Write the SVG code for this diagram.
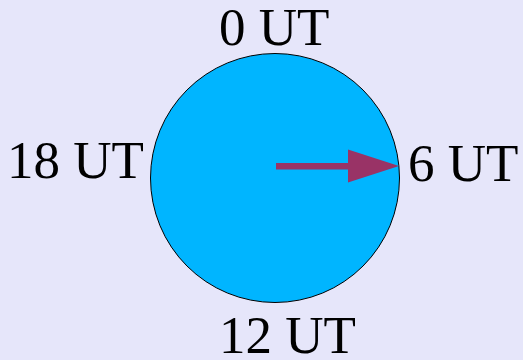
<svg xmlns="http://www.w3.org/2000/svg" width="523" height="360" viewBox="0 0 523 360">
<style>
.lbl{font-family:"Liberation Serif","Times New Roman",serif;font-size:53px;fill:#000}
</style>
<rect width="523" height="360" fill="#e6e6fa"/>
<g id="clock">
<circle cx="275" cy="178" r="124.5" fill="#00b5ff" stroke="#000" stroke-width="1"/>
</g>
<g id="connectors">
<rect x="276" y="163" width="73" height="6.5" fill="#993366"/>
<polygon points="348,149.5 399,166 348,182.5" fill="#993366"/>
</g>
<g id="label-0"><text class="lbl" x="219" y="45">0 UT</text></g>
<g id="label-6"><text class="lbl" x="408" y="181">6 UT</text></g>
<g id="label-12"><text class="lbl" x="219" y="353">12 UT</text></g>
<g id="label-18"><text class="lbl" x="7" y="178">18 UT</text></g>
</svg>
